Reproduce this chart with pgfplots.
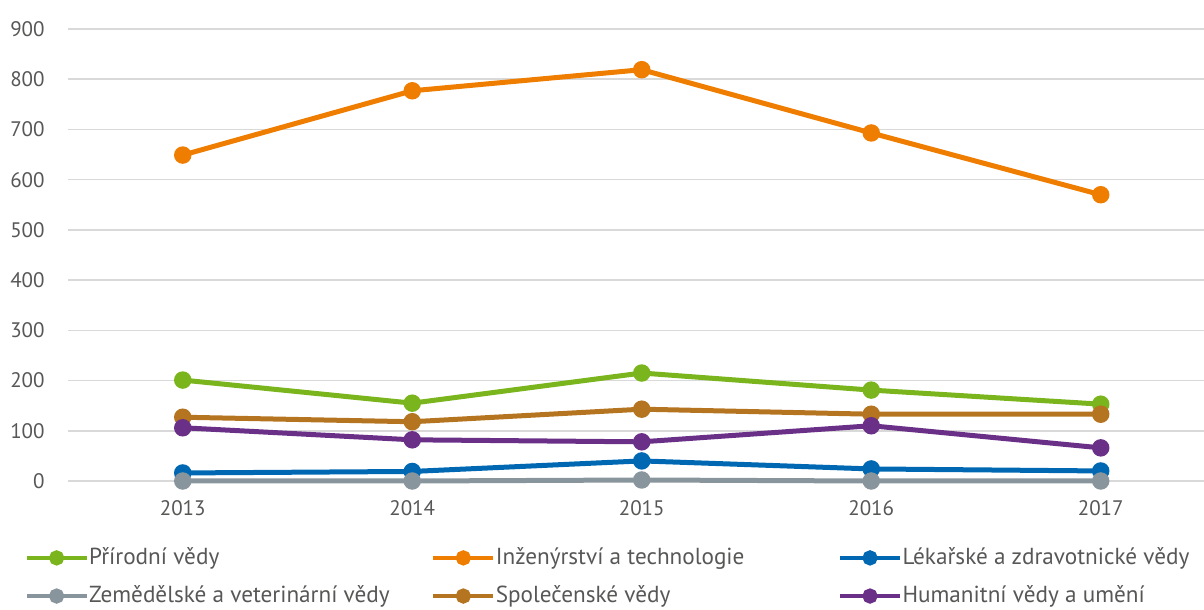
\documentclass[border=0pt]{standalone}
\usepackage{pgfplots}
\pgfplotsset{compat=1.18}
\usepackage{fontspec}
\setmainfont{PT Sans}
\definecolor{cgreen}{HTML}{7AB51D}
\definecolor{corange}{HTML}{EF7D00}
\definecolor{cblue}{HTML}{0068B2}
\definecolor{cgray}{HTML}{89959C}
\definecolor{cbrown}{HTML}{B5741F}
\definecolor{cpurple}{HTML}{6A3088}
\definecolor{ctext}{HTML}{575756}
\definecolor{cgrid}{HTML}{D9D9D9}
\begin{document}
\fontsize{10.5}{12}\selectfont
\begin{tikzpicture}
\useasboundingbox (-34pt,-64.5pt) rectangle (568pt,240.5pt);
\begin{axis}[
  at={(0,0)}, anchor=south west,
  scale only axis, width=568pt, height=226pt,
  xmin=2012.5, xmax=2017.45, ymin=0, ymax=900,
  xtick={2013,2014,2015,2016,2017},
  ytick={0,100,...,900},
  xticklabel={\pgfmathprintnumber[1000 sep={}]{\tick}},
  axis line style={draw=none},
  major tick length=0pt,
  ymajorgrids, grid style={cgrid, line width=0.75pt},
  tick label style={font=\fontsize{10.5}{12}\selectfont, text=ctext},
  /pgf/number format/assume math mode=true,
  /pgf/number format/1000 sep={},
  yticklabel style={xshift=-8pt},
  xticklabel style={yshift=-6pt},
  clip=false,
  every axis plot/.append style={line width=2.5pt, mark=*, mark size=3.1pt},
  legend columns=3,
  legend cell align=left,
  legend style={at={(-0.0387,-0.147)}, anchor=north west, draw=none, fill=none,
    inner sep=0pt, column sep=0pt, row sep=9pt,
    font=\fontsize{11.6}{13}\selectfont, text=ctext,
    nodes={inner sep=0pt}},
  legend image code/.code={\draw[mark repeat=2,mark phase=2,line width=2.2pt,mark size=2.7pt,#1] plot coordinates {(0pt,0pt)(15pt,0pt)(30pt,0pt)};\path (30pt,0pt);},
]
\addplot[cgreen, mark options={fill=cgreen, draw=none}] coordinates {(2013,201)(2014,155)(2015,215)(2016,181)(2017,153)};
\addlegendentry{\makebox[171pt][l]{Přírodní vědy}}
\addplot[corange, mark options={fill=corange, draw=none}] coordinates {(2013,649)(2014,777)(2015,819)(2016,693)(2017,570)};
\addlegendentry{\makebox[171pt][l]{Inženýrství a technologie}}
\addplot[cblue, mark options={fill=cblue, draw=none}] coordinates {(2013,16)(2014,19)(2015,40)(2016,24)(2017,20)};
\addlegendentry{Lékařské a zdravotnické vědy}
\addplot[cgray, mark options={fill=cgray, draw=none}] coordinates {(2013,0)(2014,0)(2015,2)(2016,0)(2017,0)};
\addlegendentry{Zemědělské a veterinární vědy}
\addplot[cbrown, mark options={fill=cbrown, draw=none}] coordinates {(2013,127)(2014,118)(2015,143)(2016,133)(2017,133)};
\addlegendentry{Společenské vědy}
\addplot[cpurple, mark options={fill=cpurple, draw=none}] coordinates {(2013,106)(2014,82)(2015,78)(2016,110)(2017,66)};
\addlegendentry{Humanitní vědy a umění}
\end{axis}
\end{tikzpicture}
\end{document}
